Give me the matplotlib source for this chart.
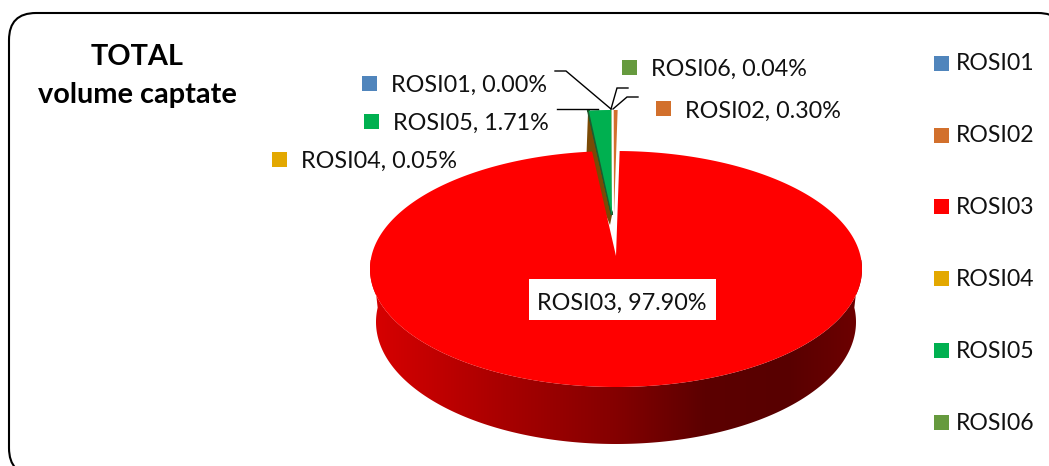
import numpy as np
import matplotlib
matplotlib.use("Agg")
import matplotlib.pyplot as plt
from matplotlib.patches import FancyBboxPatch, Polygon, Rectangle
from matplotlib.colors import LinearSegmentedColormap

names = ["ROSI01", "ROSI02", "ROSI03", "ROSI04", "ROSI05", "ROSI06"]
values = [0.00, 0.30, 97.90, 0.05, 1.71, 0.04]
colors = ["#5085BC", "#D2702C", "#FF0000", "#E3A800", "#00B050", "#669A3E"]
title_lines = ["TOTAL", "volume captate"]

FONT = "Lato"
FS = 16.6
FS_LABEL = 16.85
CX, CY, RX, RY = 616, 269, 246, 118
APEX = (616, 256)
BOT = (616, 322, 240, 122)
EXPL_DY = -41
START = -0.08  # degrees, clockwise from the top

fig = plt.figure(figsize=(10.49, 4.66), dpi=100)
ax = fig.add_axes([0, 0, 1, 1])
ax.set_xlim(0, 1049)
ax.set_ylim(466, 0)
ax.axis("off")

ax.add_patch(FancyBboxPatch((9, 13), 1056, 462, boxstyle="round,pad=0,rounding_size=27",
                            fc="white", ec="black", lw=1.5, zorder=1))


def warp(deg):
    d = np.asarray(deg, float)
    w = (d + 180) % 360 - 180
    return np.radians(d - 0.15 * w * np.cos(np.radians(w) / 2) ** 2)


def arc(d0, d1, n=400, cx=CX, cy=CY, rx=RX, ry=RY):
    d = np.linspace(d0, d1, n)
    t = warp(d)
    return np.column_stack([cx + rx * np.sin(t), cy - ry * np.cos(t)])


# wedge angle spans from the values
spans = {}
a = START
for nm, v in zip(names, values):
    spans[nm] = (a, a + v / 100 * 360)
    a = spans[nm][1]

d0, d1 = spans["ROSI03"]

# red side wall with horizontal shading
side_top = arc(90, 270)
side_bot = arc(90, 270, cx=BOT[0], cy=BOT[1], rx=BOT[2], ry=BOT[3])
side = Polygon(np.vstack([side_top, side_bot[::-1]]), closed=True, fc="none", ec="none", zorder=2)
ax.add_patch(side)
shade = LinearSegmentedColormap.from_list(
    "shade", [(0, "#D80000"), (0.27, "#A80000"), (0.5, "#840000"),
              (0.68, "#5C0000"), (0.85, "#580000"), (1, "#6E0000")])
im = ax.imshow(np.linspace(0, 1, 256)[None, :], cmap=shade, extent=(370, 862, 450, 260),
               aspect="auto", zorder=2)
im.set_clip_path(side)
ax.set_xlim(0, 1049)
ax.set_ylim(466, 0)

# exploded slices: side wall of the far-left edge, then faces
green_apex = (612, APEX[1] + EXPL_DY)
orange_apex = (614, APEX[1] + EXPL_DY)
dx_g = green_apex[0] - CX
dep = 56
s04 = spans["ROSI04"]
edge = arc(s04[0], s04[0], 1)[0] + (dx_g, EXPL_DY)
ax.add_patch(Polygon([edge, green_apex, (green_apex[0] - 2, green_apex[1] + 10), (edge[0] - 2, edge[1] + dep)],
                     closed=True, fc="#7A4A05", ec="none", zorder=3))

# red top face
ax.add_patch(Polygon(np.vstack([[APEX], arc(d0, d1, 1500)]), closed=True,
                     fc=colors[2], ec="none", zorder=4))

for nm, col, apx in [("ROSI04", "#1E5B2E", green_apex), ("ROSI05", colors[4], green_apex),
                     ("ROSI06", colors[5], green_apex), ("ROSI02", colors[1], orange_apex)]:
    s = spans[nm]
    pts = arc(s[0], s[1], 20) + (apx[0] - CX, EXPL_DY)
    ax.add_patch(Polygon(np.vstack([[apx], pts]), closed=True, fc=col, ec=col if nm == "ROSI04" else "none",
                         lw=1.6 if nm == "ROSI04" else 0, zorder=5, joinstyle="miter"))

# leader lines
for xs, ys in [([555, 566, 611], [71, 71, 109]), ([557, 598], [109, 109]),
               ([611, 617, 628], [109, 88, 88]), ([613, 627, 638], [109, 97, 97])]:
    ax.plot(xs, ys, color="black", lw=1.0, zorder=6, solid_joinstyle="miter")

# white background of two data labels
ax.add_patch(Rectangle((265, 143), 201, 31, fc="white", ec="none", zorder=5))
ax.add_patch(Rectangle((529, 279), 187, 41, fc="white", ec="none", zorder=6))


def label(i, tx, ty, mx=None, my=None):
    ax.text(tx, ty + 1, f"{names[i]}, {values[i]:.2f}%", family=FONT, fontsize=FS_LABEL, color="#111111",
            ha="left", va="center", zorder=7)
    if mx is not None:
        ax.add_patch(Rectangle((mx, my - 7.5), 15, 15, fc=colors[i], ec="none", zorder=7))


label(0, 391, 84, 362, 83.5)
label(1, 685, 110, 656, 108.5)
label(2, 537, 302)
label(3, 301, 160, 272, 159.5)
label(4, 393, 122, 364, 121.5)
label(5, 651, 68, 622, 67.5)

# legend
for nm, col, y in zip(names, colors, [63, 135, 206, 278, 350, 422]):
    ax.add_patch(Rectangle((934, y - 7.5), 15, 15, fc=col, ec="none", zorder=7))
    ax.text(956, y + 1, nm, family=FONT, fontsize=FS, color="#111111", ha="left", va="center", zorder=7)

# title
for line, y in zip(title_lines, [57, 95]):
    ax.text(137, y, line, family=FONT, fontsize=20.8, fontweight="bold", color="black",
            ha="center", va="center", zorder=7)

fig.savefig("out.png", dpi=100)
